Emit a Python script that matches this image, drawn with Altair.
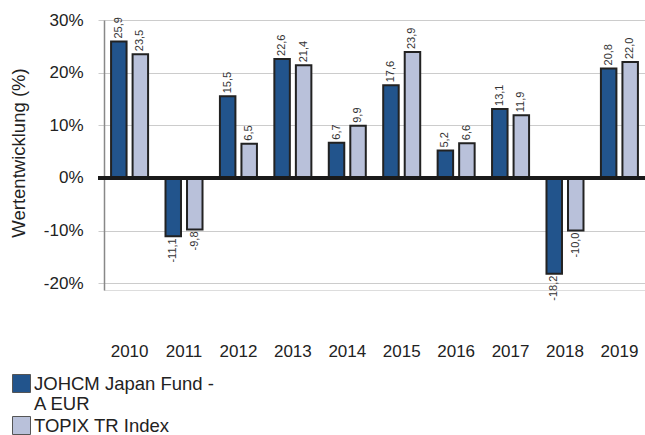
import altair as alt
import pandas as pd

years = ["2010", "2011", "2012", "2013", "2014", "2015", "2016", "2017", "2018", "2019"]
series_names = ["JOHCM Japan Fund - A EUR", "TOPIX TR Index"]
fund = [25.9, -11.1, 15.5, 22.6, 6.7, 17.6, 5.2, 13.1, -18.2, 20.8]
topix = [23.5, -9.8, 6.5, 21.4, 9.9, 23.9, 6.6, 11.9, -10.0, 22.0]
colors = ["#22548c", "#b9c1da"]
y_ticks = [-20, -10, 0, 10, 20, 30]

rows = []
for i, y in enumerate(years):
    rows.append({"year": y, "series": series_names[0], "value": fund[i]})
    rows.append({"year": y, "series": series_names[1], "value": topix[i]})
df = pd.DataFrame(rows)

FONT = "Liberation Sans"

x_enc = alt.X("year:O", sort=years,
              scale=alt.Scale(paddingInner=0.32, paddingOuter=0.13),
              axis=alt.Axis(labelAngle=0, domain=False, ticks=False, labelPadding=53,
                            labelFontSize=17, labelColor="#222", labelFont=FONT, title=None))
xo_enc = alt.XOffset("series:N", sort=series_names,
                     scale=alt.Scale(domain=series_names, paddingInner=0.28))
y_scale = alt.Scale(domain=[-21.3, 30], nice=False, zero=False)

bars = alt.Chart(df).mark_bar(stroke="#222", strokeWidth=2).encode(
    x=x_enc,
    xOffset=xo_enc,
    y=alt.Y("value:Q", scale=y_scale,
            axis=alt.Axis(values=y_ticks, labelExpr="datum.value + '%'",
                          title="Wertentwicklung (%)", titleFontSize=18.5, titleFont=FONT,
                          titleFontWeight="normal", titleColor="#222",
                          titleX=-95, titleY=132.5, titleAlign="center", titleBaseline="top",
                          labelFontSize=17, labelFont=FONT, labelColor="#222", labelPadding=15,
                          tickSize=6, tickColor="#ccc", gridColor="#ccc", gridWidth=1.2,
                          domainColor="#888", domainWidth=1.5)),
    color=alt.Color("series:N", sort=series_names,
                    scale=alt.Scale(domain=series_names, range=colors),
                    legend=alt.Legend(orient="none", legendX=-92, legendY=354, title=None,
                                      symbolType="square", symbolSize=324,
                                      symbolStrokeColor="#555", symbolStrokeWidth=1,
                                      labelFontSize=18.5, labelFont=FONT, labelColor="#222",
                                      labelLimit=0, padding=0, rowPadding=0, labelOffset=3,
                                      labelBaseline="middle",
                                      labelExpr="datum.label == 'JOHCM Japan Fund - A EUR' ? ['JOHCM Japan Fund -', 'A EUR'] : datum.label")),
)

label_expr = "replace(replace(format(datum.value, '.1f'), '.', ','), '\u2212', '-')"

pos_text = alt.Chart(df).transform_filter("datum.value >= 0").transform_calculate(
    lab=label_expr
).mark_text(angle=270, align="left", baseline="middle", dx=3, fontSize=11,
            font=FONT, color="#333").encode(
    x=x_enc, xOffset=xo_enc, y=alt.Y("value:Q", scale=y_scale), text="lab:N")

neg_text = alt.Chart(df).transform_filter("datum.value < 0").transform_calculate(
    lab=label_expr
).mark_text(angle=270, align="right", baseline="middle", dx=-2, fontSize=11,
            font=FONT, color="#333").encode(
    x=x_enc, xOffset=xo_enc, y=alt.Y("value:Q", scale=y_scale), text="lab:N")

zero_rule = alt.Chart(df).mark_rule(color="#1a1a1a", strokeWidth=3).encode(
    x=alt.value(-6), x2=alt.value(541), y=alt.datum(0, scale=y_scale))

chart = alt.layer(bars, zero_rule, pos_text, neg_text).properties(
    width=541, height=270,
    autosize=alt.AutoSizeParams(type="none"),
    padding={"left": 104, "top": 20, "right": 0, "bottom": 145},
).configure_view(stroke=None).configure(background="white")

chart.save("out.html", embed_options={"renderer": "svg", "actions": False})
